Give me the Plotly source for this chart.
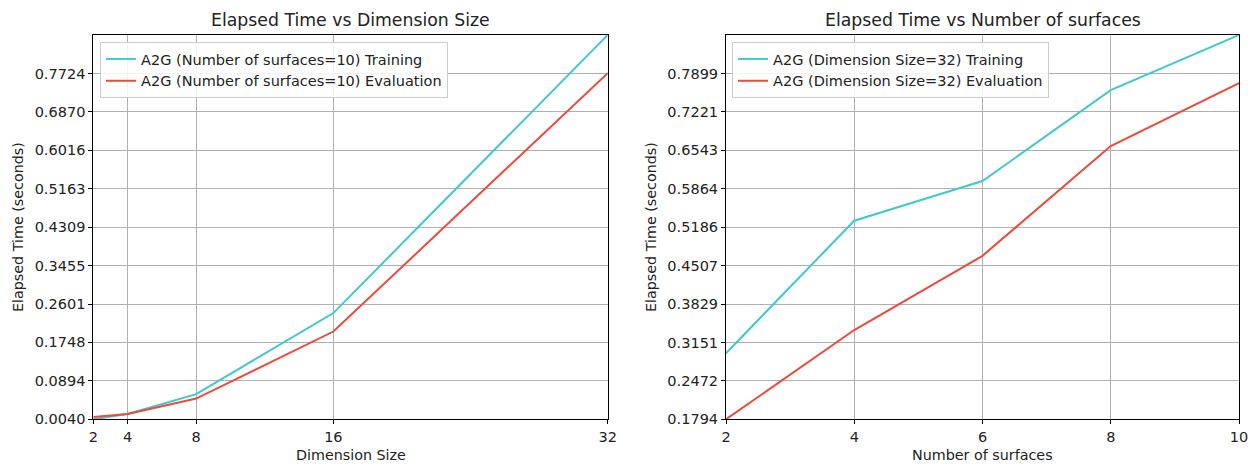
import plotly.graph_objects as go

# Elapsed time vs dimension size (number of surfaces fixed at 10)
dim_sizes = [2, 4, 8, 16, 32]
dim_train = [0.0040, 0.0160, 0.0600, 0.2400, 0.8578]
dim_eval = [0.0090, 0.0160, 0.0500, 0.1990, 0.7728]
dim_ticks = [0.0040, 0.0894, 0.1748, 0.2601, 0.3455, 0.4309, 0.5163, 0.6016, 0.6870, 0.7724]

# Elapsed time vs number of surfaces (dimension size fixed at 32)
n_surfaces = [2, 4, 6, 8, 10]
surf_train = [0.2960, 0.5300, 0.6000, 0.7605, 0.8578]
surf_eval = [0.1794, 0.3370, 0.4680, 0.6617, 0.7728]
surf_ticks = [0.1794, 0.2472, 0.3151, 0.3829, 0.4507, 0.5186, 0.5864, 0.6543, 0.7221, 0.7899]

CYAN = "#3fc9cb"
RED = "#ee4a3c"
FONT = "DejaVu Sans"
TXT = "#222222"
W, H = 1259, 464


def px_x(p):
    return p / W


def px_y(p):
    return (H - p) / H


fig = go.Figure()

fig.add_trace(go.Scatter(x=dim_sizes, y=dim_train, mode="lines",
                         name="A2G (Number of surfaces=10) Training",
                         line=dict(color=CYAN, width=2), xaxis="x", yaxis="y", legend="legend"))
fig.add_trace(go.Scatter(x=dim_sizes, y=dim_eval, mode="lines",
                         name="A2G (Number of surfaces=10) Evaluation",
                         line=dict(color=RED, width=2), xaxis="x", yaxis="y", legend="legend"))
fig.add_trace(go.Scatter(x=n_surfaces, y=surf_train, mode="lines",
                         name="A2G (Dimension Size=32) Training",
                         line=dict(color=CYAN, width=2), xaxis="x2", yaxis="y2", legend="legend2"))
fig.add_trace(go.Scatter(x=n_surfaces, y=surf_eval, mode="lines",
                         name="A2G (Dimension Size=32) Evaluation",
                         line=dict(color=RED, width=2), xaxis="x2", yaxis="y2", legend="legend2"))

axis_common = dict(
    showline=True, linecolor="black", linewidth=1, mirror=True,
    showgrid=True, gridcolor="#b0b0b0", gridwidth=1,
    ticks="outside", ticklen=4, tickcolor="black", tickwidth=1,
    tickfont=dict(family=FONT, size=14.5, color=TXT),
    zeroline=False, automargin=False,
)

y_dom = [px_y(419.3), px_y(35)]
legend_style = dict(xanchor="left", yanchor="top",
                    bgcolor="rgba(255,255,255,0.85)", bordercolor="#cccccc", borderwidth=1,
                    font=dict(family=FONT, size=14.5, color=TXT))

fig.update_layout(
    width=W, height=H,
    margin=dict(l=0, r=0, t=0, b=0),
    paper_bgcolor="white", plot_bgcolor="white",
    font=dict(family=FONT, size=14.5, color=TXT),
    xaxis=dict(axis_common, domain=[px_x(93.3), px_x(607.7)], range=[2, 32],
               tickvals=dim_sizes, ticktext=[str(v) for v in dim_sizes], anchor="y"),
    yaxis=dict(axis_common, domain=y_dom, range=[dim_train[0], max(dim_train)],
               tickvals=dim_ticks, ticktext=[f"{v:.4f}" for v in dim_ticks], anchor="x"),
    xaxis2=dict(axis_common, domain=[px_x(726), px_x(1239)], range=[2, 10],
                tickvals=n_surfaces, ticktext=[str(v) for v in n_surfaces], anchor="y2"),
    yaxis2=dict(axis_common, domain=y_dom, range=[surf_eval[0], max(surf_train)],
                tickvals=surf_ticks, ticktext=[f"{v:.4f}" for v in surf_ticks], anchor="x2"),
    legend=dict(legend_style, x=px_x(100), y=px_y(42)),
    legend2=dict(legend_style, x=px_x(732), y=px_y(42)),
    showlegend=True,
)

annotations = [
    dict(text="Elapsed Time vs Dimension Size", x=px_x(350.5), y=px_y(20),
         font=dict(family=FONT, size=17.3, color=TXT)),
    dict(text="Elapsed Time vs Number of surfaces", x=px_x(982.5), y=px_y(20),
         font=dict(family=FONT, size=17.3, color=TXT)),
    dict(text="Dimension Size", x=px_x(350.5), y=px_y(455)),
    dict(text="Number of surfaces", x=px_x(982.5), y=px_y(455)),
    dict(text="Elapsed Time (seconds)", x=px_x(18), y=px_y(227), textangle=-90),
    dict(text="Elapsed Time (seconds)", x=px_x(651), y=px_y(227), textangle=-90),
]
for a in annotations:
    a.setdefault("font", dict(family=FONT, size=14.3, color=TXT))
    fig.add_annotation(xref="paper", yref="paper", showarrow=False,
                       xanchor="center", yanchor="middle", **a)

fig.write_html("out.html")
